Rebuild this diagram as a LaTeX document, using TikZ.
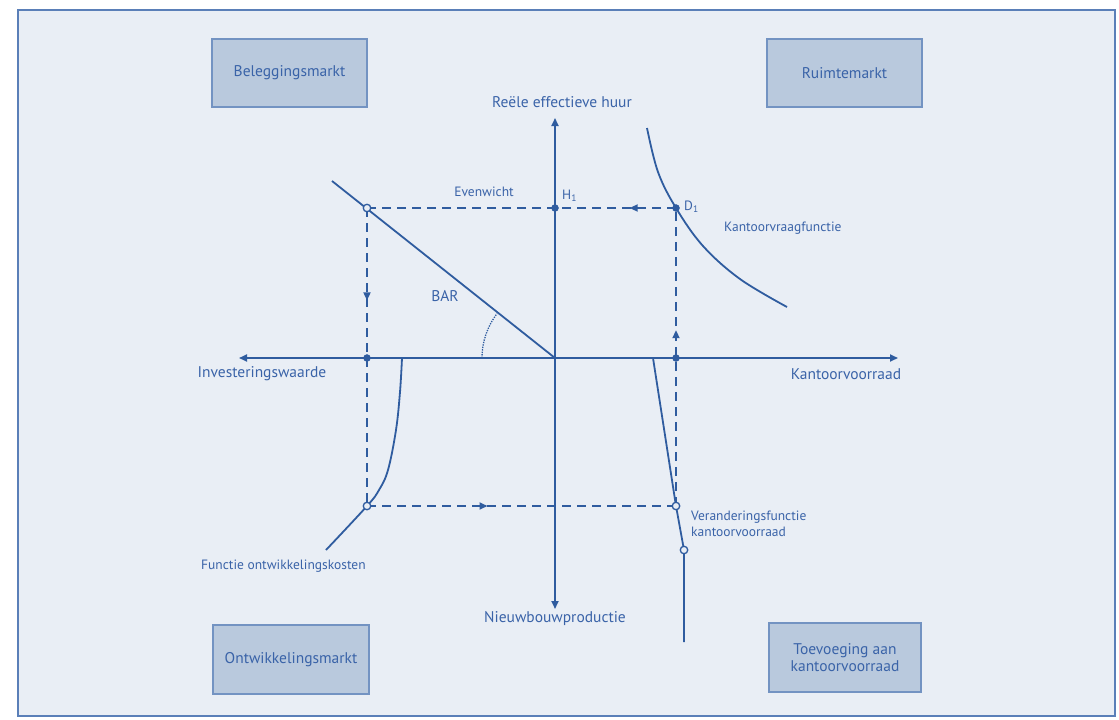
\documentclass[tikz,border=0pt]{standalone}
\usepackage{fontspec}
\setmainfont{PT Sans}
\usetikzlibrary{arrows.meta,decorations.markings}
\definecolor{bg}{HTML}{E9EEF5}
\definecolor{frame}{HTML}{5A7FB8}
\definecolor{boxfill}{HTML}{B9C9DD}
\definecolor{boxline}{HTML}{7393C2}
\definecolor{ln}{HTML}{2F5C9F}
\definecolor{txt}{HTML}{3A63A8}
\tikzset{
  mkt/.style={draw=boxline, line width=1.2pt, fill=boxfill, text=txt, font=\fontsize{15.5}{17}\selectfont, align=center, inner sep=0pt},
  lbl/.style={text=txt, font=\fontsize{15.5}{17}\selectfont, inner sep=0pt},
  slbl/.style={text=txt, font=\fontsize{13.5}{16}\selectfont, inner sep=0pt},
  axis/.style={ln, line width=1.8pt, -{Triangle[length=8pt,width=7pt]}},
  curve/.style={ln, line width=1.8pt},
  dsh/.style={ln, line width=1.8pt, dash pattern=on 9pt off 6pt},
  midarrow/.style={postaction={decorate}, decoration={markings, mark=at position #1 with {\arrow{Triangle[length=8pt,width=7pt]}}}},
  fdot/.style={circle, fill=ln, draw=ln, minimum size=7pt, inner sep=0pt},
  odot/.style={circle, fill=bg, draw=ln, line width=1.3pt, minimum size=7.5pt, inner sep=0pt},
}
\begin{document}
\begin{tikzpicture}[x=1pt,y=-1pt]
\useasboundingbox (0,0) rectangle (1119,720);
\fill[white] (0,0) rectangle (1119,720);
\draw[frame, line width=2.2pt, fill=bg] (18,10) rectangle (1115,716);

% market boxes
\node[mkt, minimum width=155pt, minimum height=68pt] (bel) at (289.5,73) {Beleggingsmarkt};
\node[mkt, minimum width=155pt, minimum height=68pt] (rui) at (844.5,73) {Ruimtemarkt};
\node[mkt, minimum width=156pt, minimum height=69pt] (ont) at (291,659.5) {Ontwikkelingsmarkt};
\node[mkt, minimum width=152pt, minimum height=69pt] (toe) at (845,657.5) {Toevoeging aan\\kantoorvoorraad};

% axes
\coordinate (O) at (555,358);
\coordinate (ytop) at (555,118);
\coordinate (ybot) at (555,609);
\coordinate (xl) at (239,358);
\coordinate (xr) at (898,358);
\draw[axis] (O) -- (ytop);
\draw[axis] (O) -- (ybot);
\draw[axis] (O) -- (xl);
\draw[axis] (O) -- (xr);

\node[lbl] (lhuur) at (562,102) {Reële effectieve huur};
\node[lbl] (lnieuw) at (555,619) {Nieuwbouwproductie};
\node[lbl] (linv) at (262,374) {Investeringswaarde};
\node[lbl] (lkant) at (846,374) {Kantoorvoorraad};

% key points
\coordinate (A) at (367,208);
\coordinate (H) at (555,208);
\coordinate (D) at (676,208);
\coordinate (B) at (367,506);
\coordinate (C) at (676,506);
\coordinate (Ix) at (367,358);
\coordinate (Kx) at (676,358);
\coordinate (E) at (684,550);

% BAR line
\coordinate (bar0) at (332,181);
\draw[curve] (bar0) -- (O);
\draw[ln, line width=1.3pt, dash pattern=on 1.3pt off 1.2pt] (482,358) arc[start angle=180, end angle=217.4, radius=73];

% demand curve
\draw[curve] plot[smooth, tension=0.6] coordinates {(647,128) (658,172) (676,208) (703,246) (740,279) (787,307)};

% development cost curve
\draw[curve] plot[smooth, tension=0.6] coordinates {(402,358) (400,392) (396,430) (388,470) (379,490) (367,506) (326,550)};

% stock change function
\coordinate (v0) at (653,358);
\coordinate (vend) at (684,642);
\draw[curve] (v0) -- (C) -- (E) -- (vend);

% dashed loop
\draw[dsh, midarrow=0.15] (D) -- (A);
\draw[dsh, midarrow=0.31] (A) -- (B);
\draw[dsh, midarrow=0.39] (B) -- (C);
\draw[dsh, midarrow=0.59] (C) -- (D);

% dots
\node[fdot] (dH) at (H) {};
\node[fdot] (dD) at (D) {};
\node[fdot] (dI) at (Ix) {};
\node[fdot] (dK) at (Kx) {};
\node[odot] (oA) at (A) {};
\node[odot] (oB) at (B) {};
\node[odot] (oC) at (C) {};
\node[odot] (oE) at (E) {};

% labels
\node[slbl] (lev) at (484,192) {Evenwicht};
\node[slbl, anchor=west] (lh) at (562,196) {H\textsubscript{1}};
\node[slbl, anchor=west] (ld) at (684,207) {D\textsubscript{1}};
\node[lbl] (lbar) at (445,296) {BAR};
\node[slbl, anchor=west] (lvr) at (724,228) {Kantoorvraagfunctie};
\node[slbl, anchor=west] (lfo) at (201,566) {Functie ontwikkelingskosten};
\node[slbl, anchor=west, align=left] (lvf) at (691,524) {Veranderingsfunctie\\kantoorvoorraad};
\end{tikzpicture}
\end{document}
